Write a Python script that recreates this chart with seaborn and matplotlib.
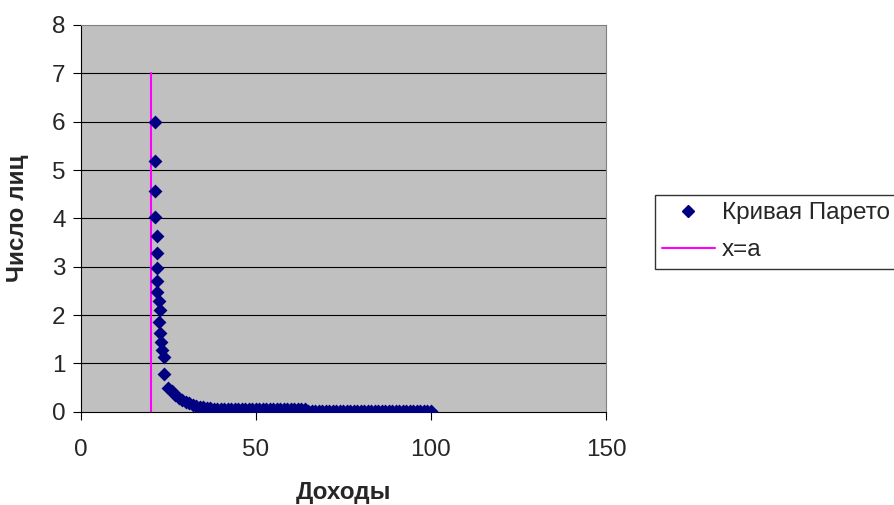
import matplotlib
matplotlib.use("Agg")
import matplotlib.pyplot as plt
import seaborn as sns
import pandas as pd
from matplotlib.lines import Line2D

# Pareto curve: income (x) versus number of persons (y)
income_head = [21.1, 21.1, 21.1, 21.2, 21.6, 21.7, 21.6, 21.6, 21.7,
               22.2, 22.6, 22.4, 22.7, 22.9, 23.2, 23.6, 23.8]
persons_head = [6.00, 5.19, 4.57, 4.03, 3.63, 3.28, 2.97, 2.71, 2.48,
                2.28, 2.10, 1.86, 1.62, 1.45, 1.28, 1.14, 0.78]

income_tail = [25, 26, 27, 28, 29, 30, 31, 32, 33, 34, 35, 36, 37, 38, 39, 40,
               41, 42, 43, 44, 45, 46, 47, 48, 49, 50, 51, 52, 53, 54, 55, 56,
               57, 58, 59, 60, 61, 62, 63, 64, 65, 66, 67, 68, 69, 70, 71, 72,
               73, 74, 75, 76, 77, 78, 79, 80, 81, 82, 83, 84, 85, 86, 87, 88,
               89, 90, 91, 92, 93, 94, 95, 96, 97, 98, 99, 100]
persons_tail = [0.50, 0.42, 0.35, 0.29, 0.24, 0.20, 0.17, 0.14, 0.12, 0.10,
                0.09, 0.08, 0.07, 0.065, 0.06, 0.055,
                0.05, 0.05, 0.05, 0.05, 0.05, 0.05, 0.05, 0.05, 0.05, 0.05,
                0.05, 0.05, 0.05, 0.05, 0.05, 0.05, 0.05, 0.05, 0.05, 0.05,
                0.05, 0.05, 0.05, 0.05,
                0.01, 0.01, 0.01, 0.01, 0.01, 0.01, 0.01, 0.01, 0.01, 0.01,
                0.01, 0.01, 0.01, 0.01, 0.01, 0.01, 0.01, 0.01, 0.01, 0.01,
                0.01, 0.01, 0.01, 0.01, 0.01, 0.01, 0.01, 0.01, 0.01, 0.01,
                0.01, 0.01, 0.01, 0.01, 0.01, 0.01]

# Vertical line x = a
a_x = [20, 20]
a_y = [0, 7]

x_ticks = [0, 50, 100, 150]
y_ticks = [0, 1, 2, 3, 4, 5, 6, 7, 8]

series_label = "Кривая Парето"
line_label = "x=a"
x_title = "Доходы"
y_title = "Число лиц"

sns.set_theme(style="white")
plt.rcParams["font.family"] = ["Liberation Sans", "DejaVu Sans"]

navy = "#000080"
magenta = "#FF00FF"
fs = 17.5

df = pd.DataFrame({"x": income_head + income_tail,
                   "y": persons_head + persons_tail})

fig = plt.figure(figsize=(8.95, 5.05), dpi=100)
ax = fig.add_axes([81 / 895, 1 - 411.7 / 505, 525 / 895, 386.7 / 505])
ax.set_facecolor("#C0C0C0")

for yv in y_ticks[1:-1]:
    ax.axhline(yv, color="black", lw=0.8, zorder=1)

ax.plot(a_x, a_y, color=magenta, lw=1.5, zorder=2)
sns.scatterplot(data=df, x="x", y="y", marker="D", s=50, color=navy,
                edgecolor=navy, linewidth=0, ax=ax, zorder=3, legend=False)

ax.set_xlim(0, 150)
ax.set_ylim(0, 8)
ax.set_xticks(x_ticks)
ax.set_yticks(y_ticks)
ax.tick_params(axis="x", direction="out", length=5.5, width=0.8, color="black",
               labelsize=fs, pad=14, bottom=True)
ax.tick_params(axis="y", direction="out", length=6, width=0.8, color="black",
               labelsize=fs, pad=5, left=True)

for side in ("left", "bottom"):
    ax.spines[side].set_color("black")
    ax.spines[side].set_linewidth(0.8)
for side in ("top", "right"):
    ax.spines[side].set_color("#808080")
    ax.spines[side].set_linewidth(0.8)

ax.set_xlabel("")
ax.set_ylabel("")
fig.text(343.5 / 895, 1 - 492 / 505, x_title, ha="center", va="center",
         fontsize=fs, fontweight="bold")
fig.text(18 / 895, 1 - 218 / 505, y_title, ha="center", va="center",
         rotation=90, fontsize=fs, fontweight="bold")

handles = [
    Line2D([], [], linestyle="none", marker="D", markersize=6.5,
           markerfacecolor=navy, markeredgecolor=navy),
    Line2D([], [], color=magenta, lw=1.5),
]
leg = fig.legend(handles, [series_label, line_label],
                 loc="upper left", bbox_to_anchor=(655 / 895, 1 - 195 / 505),
                 frameon=True, fancybox=False, shadow=False,
                 fontsize=fs, handlelength=2.15, handletextpad=0.3,
                 borderpad=0.3, labelspacing=0.62, borderaxespad=0)
leg.get_frame().set_edgecolor("black")
leg.get_frame().set_linewidth(1.0)
leg.get_frame().set_facecolor("white")

fig.savefig("out.png", dpi=100)
